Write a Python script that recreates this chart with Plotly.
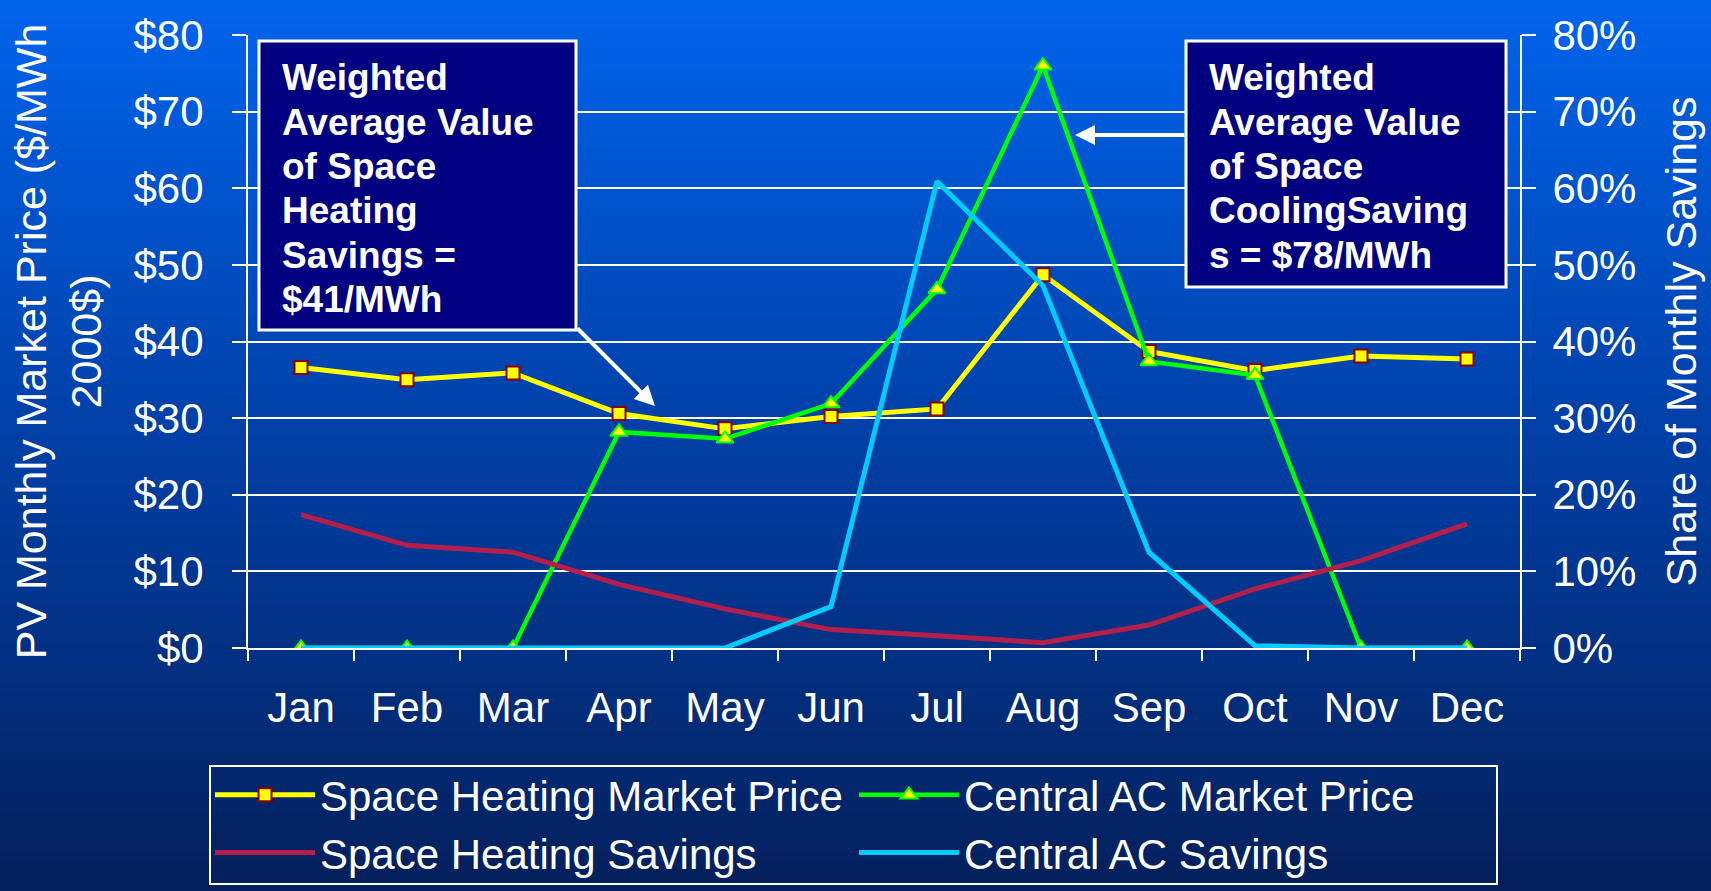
import plotly.graph_objects as go

months = ["Jan", "Feb", "Mar", "Apr", "May", "Jun", "Jul", "Aug", "Sep", "Oct", "Nov", "Dec"]

# $/MWh, left axis
heat_price = [36.6, 35.0, 35.9, 30.6, 28.6, 30.2, 31.2, 48.7, 38.7, 36.2, 38.1, 37.7]
ac_price = [0, 0, 0, 28.2, 27.3, 31.9, 46.8, 76.0, 37.4, 35.6, 0, 0]

# share of monthly savings, right axis
heat_savings = [0.174, 0.134, 0.125, 0.083, 0.051, 0.024, 0.016, 0.007, 0.030, 0.077, 0.114, 0.162]
ac_savings = [0, 0, 0, 0, 0, 0.054, 0.609, 0.473, 0.125, 0.003, 0, 0]

heat_note = ["Weighted", "Average Value", "of Space", "Heating", "Savings =", "$41/MWh"]
cool_note = ["Weighted", "Average Value", "of Space", "CoolingSaving", "s = $78/MWh"]

FONT = "Liberation Sans, Arial, sans-serif"
W_FIG, H_FIG = 1711, 891
L, R, T, B = 248, 1520, 35, 648


def px(x):
    return (x - L) / (R - L)


def py(y):
    return (B - y) / (B - T)


fig = go.Figure()
fig.add_trace(go.Scatter(
    x=months, y=heat_price, name="Space Heating Market Price", mode="lines+markers",
    line=dict(color="#FFFF00", width=5),
    marker=dict(symbol="square", size=13, color="#FFFF00", line=dict(color="#8B0000", width=2)),
))
fig.add_trace(go.Scatter(
    x=months, y=ac_price, name="Central AC Market Price", mode="lines+markers",
    line=dict(color="#00FF00", width=4.5),
    marker=dict(symbol="triangle-up", size=15, color="#FFFF00", line=dict(color="#00FF00", width=2)),
))
fig.add_trace(go.Scatter(
    x=months, y=heat_savings, name="Space Heating Savings", mode="lines", yaxis="y2",
    line=dict(color="#B41E4B", width=5),
))
fig.add_trace(go.Scatter(
    x=months, y=ac_savings, name="Central AC Savings", mode="lines", yaxis="y2",
    line=dict(color="#00CCFF", width=5),
))

# background gradient, bright blue to navy
stops = [(0.0, (0, 100, 235)), (0.45, (0, 66, 172)), (1.0, (4, 32, 92))]


def grad(t):
    for (t0, c0), (t1, c1) in zip(stops[:-1], stops[1:]):
        if t <= t1:
            f = (t - t0) / (t1 - t0)
            return "rgb(%d,%d,%d)" % tuple(round(a + (b - a) * f) for a, b in zip(c0, c1))
    return "rgb(%d,%d,%d)" % stops[-1][1]


shapes = []
n = 90
for i in range(n):
    y0 = H_FIG * i / n
    y1 = H_FIG * (i + 1) / n + 1
    shapes.append(dict(type="rect", xref="paper", yref="paper", layer="below",
                       x0=px(0), x1=px(W_FIG), y0=py(y1), y1=py(y0),
                       fillcolor=grad(i / (n - 1)), line=dict(width=0)))

# note boxes
for x0, x1, y0, y1 in [(259, 576, 41, 330), (1186, 1506, 41, 287)]:
    shapes.append(dict(type="rect", xref="paper", yref="paper", layer="above",
                       x0=px(x0), x1=px(x1), y0=py(y1), y1=py(y0),
                       fillcolor="#000080", line=dict(color="white", width=3)))

# legend frame
shapes.append(dict(type="rect", xref="paper", yref="paper", layer="above",
                   x0=px(210), x1=px(1497), y0=py(884), y1=py(766),
                   line=dict(color="white", width=2)))

note_font = dict(family=FONT, size=37, color="white", weight="bold")
annotations = []
for x_text, lines in [(280, heat_note), (1207, cool_note)]:
    for i, s in enumerate(lines):
        annotations.append(dict(text=s, xref="paper", yref="paper", x=px(x_text),
                                y=py(78 + i * 44.3), xanchor="left", yanchor="middle",
                                showarrow=False, font=note_font))

annotations += [
    dict(text="", xref="paper", yref="paper", x=px(655), y=py(406), ax=-79, ay=-79,
         showarrow=True, arrowcolor="white", arrowwidth=4, arrowhead=2, arrowsize=1, standoff=0),
    dict(text="", xref="paper", yref="paper", x=px(1075), y=py(135), ax=111, ay=0,
         showarrow=True, arrowcolor="white", arrowwidth=4, arrowhead=2, arrowsize=1, standoff=0),
]

axis_style = dict(
    showline=True, linecolor="white", linewidth=2,
    ticks="outside", tickcolor="white", tickwidth=2,
    tickfont=dict(family=FONT, size=42, color="white"),
    zeroline=False,
)

fig.update_layout(
    width=W_FIG, height=H_FIG,
    margin=dict(l=L, r=W_FIG - R, t=T, b=H_FIG - B, autoexpand=False),
    paper_bgcolor="#002A78", plot_bgcolor="rgba(0,0,0,0)",
    font=dict(family=FONT, color="white"),
    shapes=shapes, annotations=annotations,
    xaxis=dict(**axis_style, type="category", range=[-0.5, 11.5], tickson="boundaries",
               ticklen=11, ticklabelstandoff=22, showgrid=False),
    yaxis=dict(**axis_style, range=[0, 80], dtick=10, tickprefix="$", ticklen=14,
               ticklabelstandoff=20, showgrid=True, gridcolor="white", gridwidth=2,
               title=dict(text="PV Monthly Market Price ($/MWh<br>2000$)", standoff=18,
                          font=dict(family=FONT, size=43, color="white"))),
    yaxis2=dict(**axis_style, range=[0, 0.8], dtick=0.1, tickformat=".0%", ticklen=14,
                ticklabelstandoff=8, overlaying="y", side="right", showgrid=False,
                title=dict(text="Share of Monthly Savings", standoff=30,
                           font=dict(family=FONT, size=43, color="white"))),
    legend=dict(orientation="h", x=px(210), y=py(761), xanchor="left", yanchor="top",
                entrywidth=529, entrywidthmode="pixels", itemwidth=100,
                borderwidth=0, bgcolor="rgba(0,0,0,0)",
                font=dict(family=FONT, size=42, color="white")),
)

# drop the page's default body margin so the figure fills the window
fig.write_html("out.html", config={"displayModeBar": False},
               post_script="document.body.style.margin='0';")
